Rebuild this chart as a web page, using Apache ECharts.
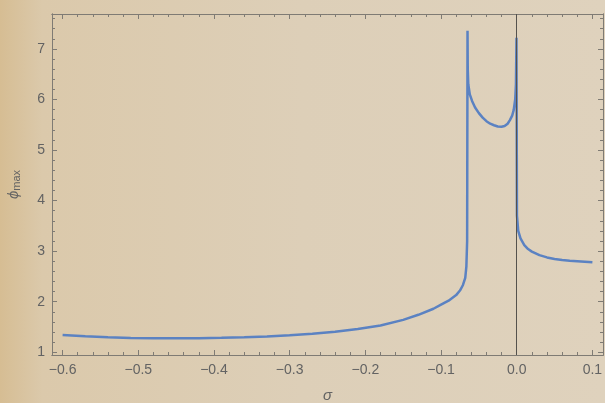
<!DOCTYPE html>
<html>
<head>
<meta charset="utf-8">
<script src="https://cdn.jsdelivr.net/npm/echarts@6/dist/echarts.min.js"></script>
<style>
  html, body { margin: 0; padding: 0; }
  #chart { width: 605px; height: 403px; }
</style>
</head>
<body>
<div id="chart"></div>
<script>
// sigma values and phi_max
const sigma = [
    -0.60, -0.57, -0.54, -0.51, -0.48, -0.45, -0.42, -0.39, -0.36, -0.33,
    -0.30, -0.27, -0.24, -0.21, -0.18, -0.15, -0.13, -0.11, -0.10, -0.09,
    -0.08, -0.075, -0.071, -0.068, -0.0665, -0.0655, -0.065, -0.0647, -0.064, -0.062,
    -0.059, -0.055, -0.05, -0.045, -0.04, -0.035, -0.03, -0.025, -0.02, -0.016,
    -0.012, -0.009, -0.006, -0.004, -0.002, -0.001, -0.0003, 0.0003, 0.002, 0.005,
    0.01, 0.015, 0.02, 0.03, 0.04, 0.05, 0.06, 0.07, 0.08, 0.09, 0.10
];
const phiMax = [
    1.34, 1.315, 1.295, 1.283, 1.277, 1.275, 1.277, 1.285, 1.297, 1.312,
    1.335, 1.365, 1.405, 1.46, 1.53, 1.64, 1.74, 1.86, 1.94, 2.02,
    2.13, 2.22, 2.33, 2.47, 2.7, 3.2, 7.36, 6.6, 6.3, 6.1,
    5.97, 5.84, 5.73, 5.64, 5.57, 5.52, 5.49, 5.465, 5.46, 5.475,
    5.52, 5.59, 5.68, 5.79, 6.0, 6.3, 7.22, 3.7, 3.4, 3.25,
    3.12, 3.04, 2.99, 2.92, 2.875, 2.845, 2.825, 2.81, 2.80, 2.79, 2.78
];

const xMajor = [-0.6, -0.5, -0.4, -0.3, -0.2, -0.1, 0.0, 0.1];
const xMinor = [];
for (let i = -30; i <= 5; i++) if (i % 5 !== 0) xMinor.push(+(i * 0.02).toFixed(2));
const yMajor = [1, 2, 3, 4, 5, 6, 7];
const yMinor = [];
for (let i = 5; i <= 38; i++) if (i % 5 !== 0) yMinor.push(+(i * 0.2).toFixed(1));

const xMin = -0.614, xMax = 0.114;
const yMin = 0.945, yMax = 7.69;

const frameColor = '#7f7b74';
const labelColor = '#636363';
const fontFamily = 'Liberation Sans, Arial, sans-serif';

const chart = echarts.init(document.getElementById('chart'));

function fmt(v) {
    const s = Math.abs(v).toFixed(1);
    return v < -1e-9 ? '\u2212' + s : s;
}

// labelMode: 'real' = visible labels, 'blank' = empty labels (keeps ticks), 'off' = none
function xAxisDef(grid, pos, ticks, len, labelMode, extra) {
    return Object.assign({
        type: 'value', gridIndex: grid, position: pos, min: xMin, max: xMax,
        axisLine: { show: true, onZero: false, lineStyle: { color: frameColor, width: 1 } },
        axisTick: { show: true, inside: true, length: len, customValues: ticks,
            lineStyle: { color: frameColor, width: 1 } },
        axisLabel: { show: labelMode !== 'off', customValues: ticks,
            formatter: labelMode === 'real' ? fmt : () => '',
            color: labelColor, fontSize: 14, fontFamily: fontFamily, margin: 8 },
        splitLine: { show: false }
    }, extra || {});
}

function yAxisDef(grid, pos, ticks, len, labelMode, extra) {
    return Object.assign({
        type: 'value', gridIndex: grid, position: pos, min: yMin, max: yMax,
        axisLine: { show: true, onZero: false, lineStyle: { color: frameColor, width: 1 } },
        axisTick: { show: true, inside: true, length: len, customValues: ticks,
            lineStyle: { color: frameColor, width: 1 } },
        axisLabel: { show: labelMode !== 'off', customValues: ticks,
            formatter: labelMode === 'real' ? (v => String(Math.round(v))) : () => '',
            color: labelColor, fontSize: 14, fontFamily: fontFamily, margin: 7 },
        splitLine: { show: false }
    }, extra || {});
}

const gridBox = { left: 52, top: 14, right: 2, bottom: 48, containLabel: false, outerBoundsMode: 'none' };

const option = {
    animation: false,
    backgroundColor: {
        type: 'linear', x: 0, y: 0, x2: 1, y2: 0,
        colorStops: [
            { offset: 0, color: '#d6bd93' },
            { offset: 0.07, color: '#dbc9ab' },
            { offset: 0.5, color: '#ddcfb8' },
            { offset: 1, color: '#dfd2bd' }
        ]
    },
    grid: [Object.assign({}, gridBox), Object.assign({}, gridBox)],
    xAxis: [
        xAxisDef(0, 'bottom', xMajor, 5, 'real', {
            name: 'σ', nameLocation: 'middle', nameGap: 33,
            nameTextStyle: { color: labelColor, fontSize: 15, fontStyle: 'italic', fontFamily: fontFamily }
        }),
        xAxisDef(0, 'top', xMajor, 5, 'off'),
        xAxisDef(1, 'bottom', xMinor, 3, 'blank'),
        xAxisDef(1, 'top', xMinor, 3, 'blank')
    ],
    yAxis: [
        yAxisDef(0, 'left', yMajor, 5, 'real', {
            name: '{a|ϕ}{b|max}', nameLocation: 'middle', nameGap: 30,
            nameTextStyle: {
                rich: {
                    a: { color: labelColor, fontSize: 15, fontStyle: 'italic', fontFamily: fontFamily },
                    b: { color: labelColor, fontSize: 11, fontFamily: fontFamily, padding: [6, 0, 0, 0] }
                }
            }
        }),
        yAxisDef(0, 'right', yMajor, 5, 'off'),
        yAxisDef(1, 'left', yMinor, 3, 'blank'),
        yAxisDef(1, 'right', yMinor, 3, 'blank')
    ],
    series: [{
        type: 'line',
        xAxisIndex: 0,
        yAxisIndex: 0,
        data: sigma.map((s, i) => [s, phiMax[i]]),
        showSymbol: false,
        symbol: 'none',
        lineStyle: { color: '#5b82c2', width: 2.5 },
        markLine: {
            silent: true,
            symbol: 'none',
            label: { show: false },
            lineStyle: { color: '#55524d', width: 1, type: 'solid' },
            data: [{ xAxis: 0 }]
        },
        z: 3
    }, {
        type: 'line',
        xAxisIndex: 2,
        yAxisIndex: 2,
        data: []
    }, {
        type: 'line',
        xAxisIndex: 3,
        yAxisIndex: 3,
        data: []
    }]
};

chart.setOption(option);
</script>
</body>
</html>
